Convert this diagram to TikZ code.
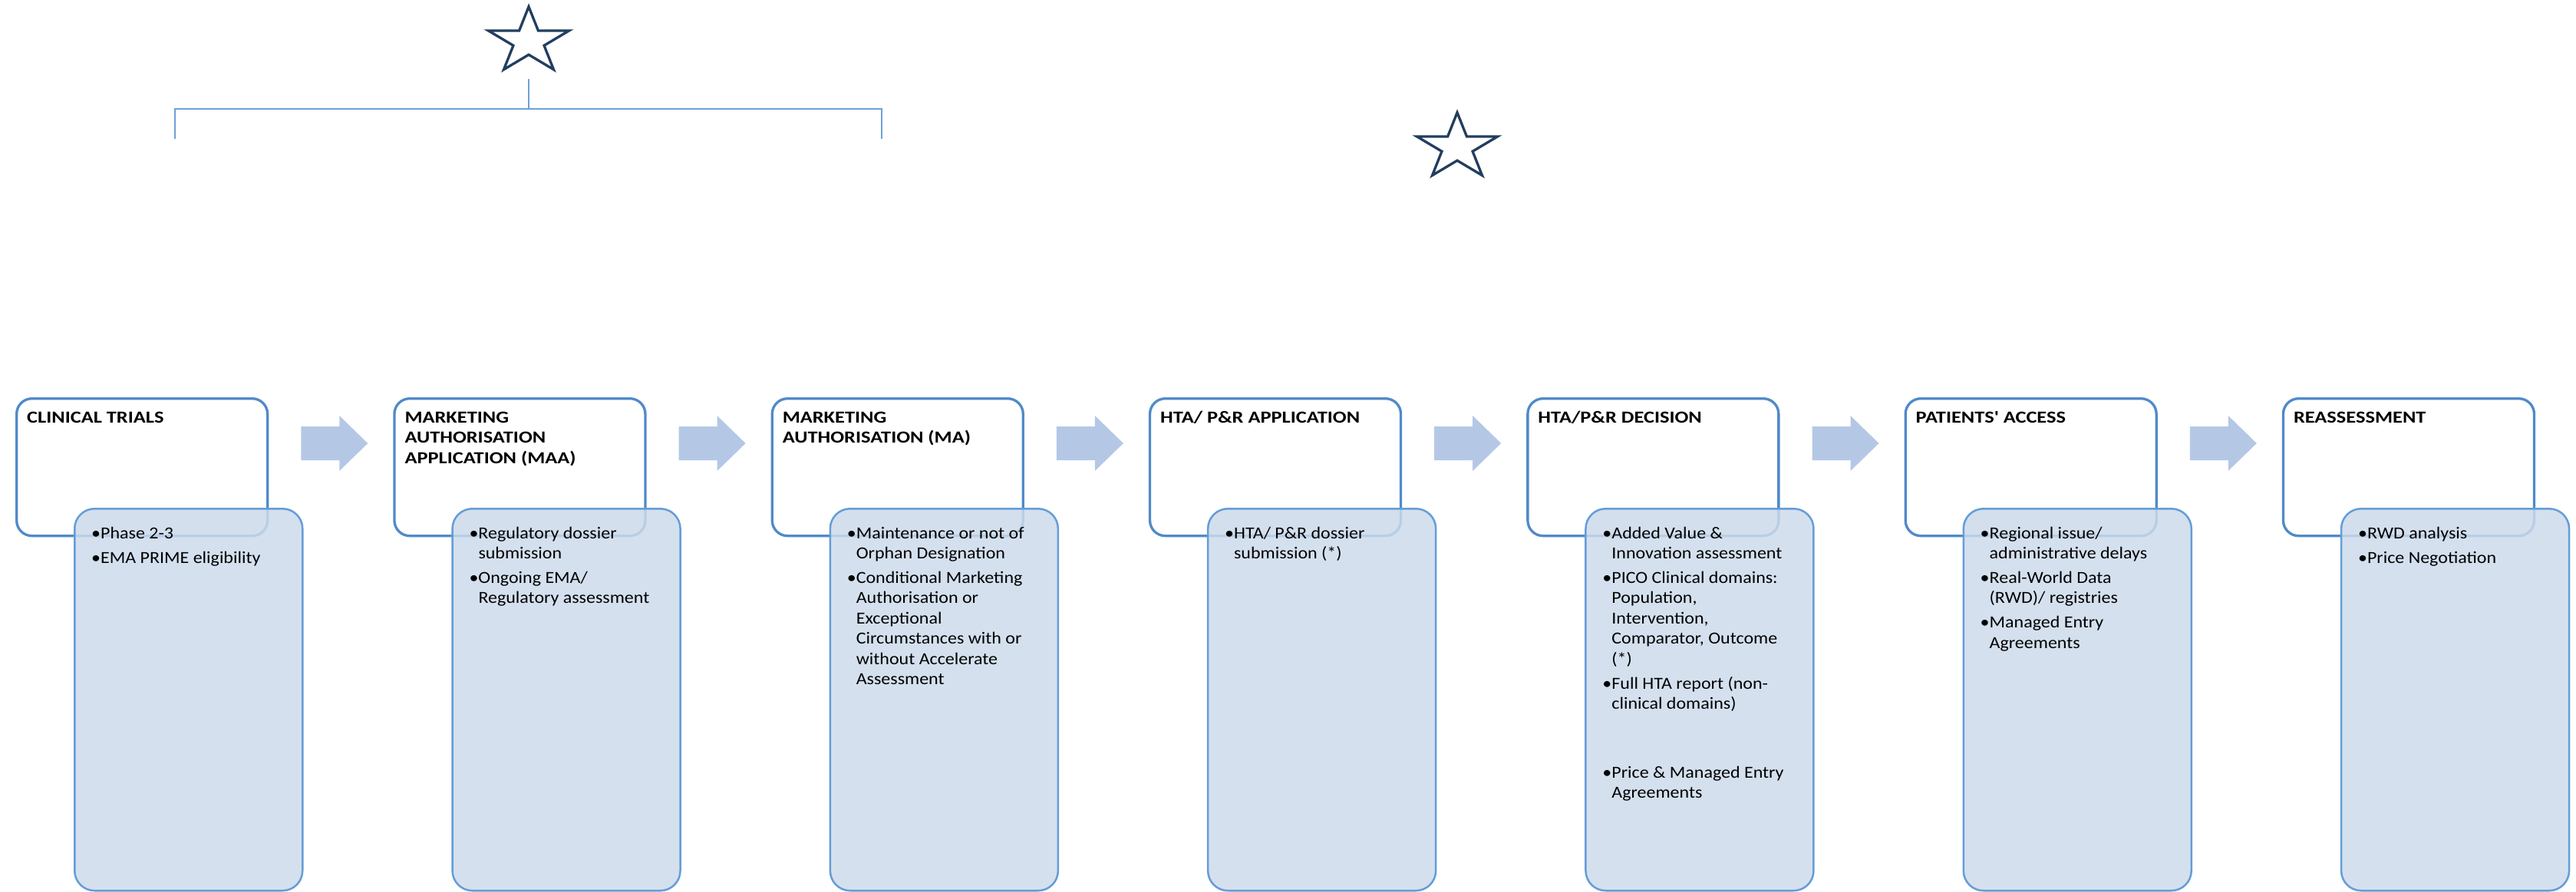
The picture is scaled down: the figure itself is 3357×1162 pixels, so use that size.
\documentclass[tikz,border=0pt]{standalone}
\usepackage{fontspec}
\setmainfont{Carlito}[FakeStretch=1.09]
\newfontfamily\titlefont{Carlito}[FakeStretch=1.2, Ligatures=TeXOff]
\usetikzlibrary{calc}
\definecolor{stageline}{RGB}{80,138,201}
\definecolor{detailline}{RGB}{100,157,215}
\definecolor{detailfill}{RGB}{204,218,235}
\definecolor{flowfill}{RGB}{180,200,230}
\definecolor{starline}{RGB}{34,62,95}
\definecolor{bracketline}{RGB}{110,160,215}
\newcommand\bul{\makebox[12pt][l]{\textbullet}}
\begin{document}
\begin{tikzpicture}[x=1pt,y=-1pt,
  stagebox/.style={draw=stageline, line width=3.3pt, fill=white, rounded corners=20pt,
    minimum width=327pt, minimum height=179pt, anchor=north west, inner sep=0pt},
  detailbox/.style={draw=detailline, line width=2.5pt, fill=detailfill, fill opacity=0.85,
    rounded corners=26pt, minimum width=297pt, minimum height=498pt, anchor=north west, inner sep=0pt},
  flow/.style={fill=flowfill, draw=none},
  stagetitle/.style={anchor=base west, inner sep=0pt, text=black,
    font=\titlefont\fontsize{22}{26.8}\selectfont\bfseries},
  stagetext/.style={anchor=base west, inner sep=0pt, text=black,
    font=\fontsize{22}{26.4}\selectfont},
  outline star/.style={draw=starline, line width=3.3pt, line join=miter, fill=white},
  bracket/.style={draw=bracketline, line width=2pt}]
\useasboundingbox (0,0) rectangle (3357,1162);

% stars and bracket
\draw[outline star] plot[samples at={0,...,9}]
  ({689+1.22*(mod(\x,2)==0 ? 45.3 : 17.3)*cos(90+36*\x)}, {54-(mod(\x,2)==0 ? 45.3 : 17.3)*sin(90+36*\x)}) -- cycle;
\draw[outline star] plot[samples at={0,...,9}]
  ({1899+1.22*(mod(\x,2)==0 ? 45.3 : 17.3)*cos(90+36*\x)}, {192-(mod(\x,2)==0 ? 45.3 : 17.3)*sin(90+36*\x)}) -- cycle;
\coordinate (brtop) at (689,103);
\coordinate (brmid) at (689,142);
\coordinate (brl) at (228,181);
\coordinate (brr) at (1149,181);
\draw[bracket] (brtop) -- (brmid);
\draw[bracket] (brl) -- (brl |- brmid) -- (brr |- brmid) -- (brr);

% stage boxes
\node[stagebox] (t1) at (20,518) {};
\node[stagebox] (t2) at (512.3,518) {};
\node[stagebox] (t3) at (1004.6,518) {};
\node[stagebox] (t4) at (1496.9,518) {};
\node[stagebox] (t5) at (1989.2,518) {};
\node[stagebox] (t6) at (2481.5,518) {};
\node[stagebox] (t7) at (2973.8,518) {};

% detail boxes
\foreach \i in {1,...,7} {
  \node[detailbox] (l\i) at ($(t\i.north west)+(76,144)$) {};
}

% block arrows between stages
\foreach \i in {1,...,6} {
  \fill[flow] ($(t\i.north east)+(42,38)$) -- ++(50,0) -- ++(0,-14) -- ++(37,36)
    -- ++(-37,36) -- ++(0,-14) -- ++(-50,0) -- cycle;
}

% stage titles
\node[stagetitle] (h1) at ($(t1.north west)+(15,33)$) {CLINICAL TRIALS};
\node[stagetitle] (h2) at ($(t2.north west)+(15,33)$) {\begin{tabular}[t]{@{}l@{}}MARKETING\\AUTHORISATION\\APPLICATION (MAA)\end{tabular}};
\node[stagetitle] (h3) at ($(t3.north west)+(15,33)$) {\begin{tabular}[t]{@{}l@{}}MARKETING\\AUTHORISATION (MA)\end{tabular}};
\node[stagetitle] (h4) at ($(t4.north west)+(15,33)$) {HTA/ P\&R APPLICATION};
\node[stagetitle] (h5) at ($(t5.north west)+(15,33)$) {HTA/P\&R DECISION};
\node[stagetitle] (h6) at ($(t6.north west)+(15,33)$) {PATIENTS' ACCESS};
\node[stagetitle] (h7) at ($(t7.north west)+(15,33)$) {REASSESSMENT};

% stage details
\node[stagetext] (d1) at ($(l1.north west)+(23,40)$) {\begin{tabular}[t]{@{}l@{}l@{}}
\bul & Phase 2-3\\[5.6pt]
\bul & EMA PRIME eligibility
\end{tabular}};
\node[stagetext] (d2) at ($(l2.north west)+(23,40)$) {\begin{tabular}[t]{@{}l@{}l@{}}
\bul & Regulatory dossier\\
     & submission\\[5.6pt]
\bul & Ongoing EMA/\\
     & Regulatory assessment
\end{tabular}};
\node[stagetext] (d3) at ($(l3.north west)+(23,40)$) {\begin{tabular}[t]{@{}l@{}l@{}}
\bul & Maintenance or not of\\
     & Orphan Designation\\[5.6pt]
\bul & Conditional Marketing\\
     & Authorisation or\\
     & Exceptional\\
     & Circumstances with or\\
     & without Accelerate\\
     & Assessment
\end{tabular}};
\node[stagetext] (d4) at ($(l4.north west)+(23,40)$) {\begin{tabular}[t]{@{}l@{}l@{}}
\bul & HTA/ P\&R dossier\\
     & submission (*)
\end{tabular}};
\node[stagetext] (d5) at ($(l5.north west)+(23,40)$) {\begin{tabular}[t]{@{}l@{}l@{}}
\bul & Added Value \&\\
     & Innovation assessment\\[5.6pt]
\bul & PICO Clinical domains:\\
     & Population,\\
     & Intervention,\\
     & Comparator, Outcome\\
     & (*)\\[5.6pt]
\bul & Full HTA report (non-\\
     & clinical domains)\\[63.2pt]
\bul & Price \& Managed Entry\\
     & Agreements
\end{tabular}};
\node[stagetext] (d6) at ($(l6.north west)+(23,40)$) {\begin{tabular}[t]{@{}l@{}l@{}}
\bul & Regional issue/\\
     & administrative delays\\[5.6pt]
\bul & Real-World Data\\
     & (RWD)/ registries\\[5.6pt]
\bul & Managed Entry\\
     & Agreements
\end{tabular}};
\node[stagetext] (d7) at ($(l7.north west)+(23,40)$) {\begin{tabular}[t]{@{}l@{}l@{}}
\bul & RWD analysis\\[5.6pt]
\bul & Price Negotiation
\end{tabular}};
\end{tikzpicture}
\end{document}
